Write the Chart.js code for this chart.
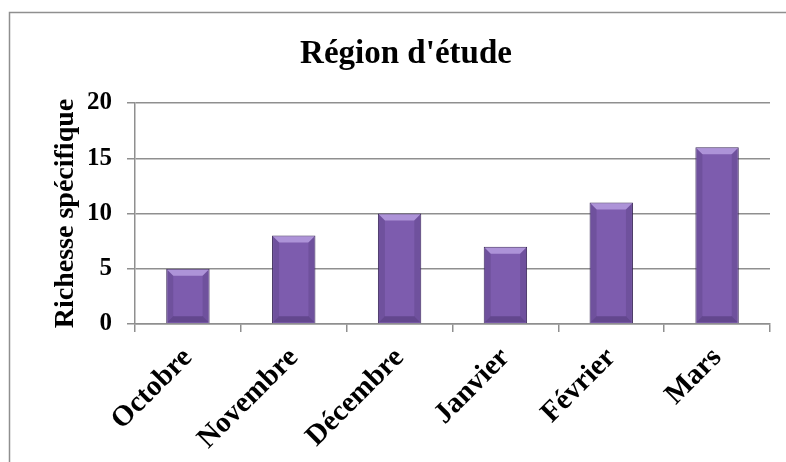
<!DOCTYPE html>
<html>
<head>
<meta charset="utf-8">
<script src="https://cdn.jsdelivr.net/npm/chart.js@4/dist/chart.umd.min.js"></script>
<style>
  html, body { margin: 0; padding: 0; background: #ffffff; }
  #wrap { width: 786px; height: 462px; position: relative; }
</style>
</head>
<body>
<div id="wrap"><canvas id="c" width="786" height="462"></canvas></div>
<script>
const chartTitle = "Région d'étude";
const yAxisTitle = "Richesse spécifique";
const categories = ["Octobre", "Novembre", "Décembre", "Janvier", "Février", "Mars"];
const richesse = [5, 8, 10, 7, 11, 16];
const yTicks = [0, 5, 10, 15, 20];

const SERIF = "'Liberation Serif', 'Times New Roman', serif";

const frame = {
  id: 'frame',
  beforeDraw(chart) {
    const ctx = chart.ctx;
    ctx.save();
    ctx.fillStyle = '#ffffff';
    ctx.fillRect(0, 0, chart.width, chart.height);
    ctx.strokeStyle = '#8f8f8f';
    ctx.lineWidth = 1.5;
    ctx.strokeRect(9.5, 12.5, chart.width + 20, chart.height + 20);
    ctx.restore();
  }
};

const bevel = {
  id: 'bevel',
  afterDatasetDraw(chart, args) {
    const ctx = chart.ctx;
    const meta = args.meta;
    ctx.save();
    meta.data.forEach(bar => {
      const w = bar.width;
      const x0 = bar.x - w / 2, x1 = bar.x + w / 2;
      const top = bar.y, bot = bar.base;
      const d = Math.min(7, (bot - top) / 3);
      ctx.fillStyle = 'rgba(190,165,230,0.75)';
      ctx.beginPath();
      ctx.moveTo(x0 + 1, top + 1); ctx.lineTo(x1 - 1, top + 1);
      ctx.lineTo(x1 - d, top + d); ctx.lineTo(x0 + d, top + d); ctx.closePath();
      ctx.fill();
      ctx.fillStyle = 'rgba(80,55,120,0.3)';
      ctx.beginPath();
      ctx.moveTo(x0 + 1, top + 1); ctx.lineTo(x0 + d, top + d);
      ctx.lineTo(x0 + d, bot - d); ctx.lineTo(x0 + 1, bot - 1); ctx.closePath();
      ctx.fill();
      ctx.beginPath();
      ctx.moveTo(x1 - 1, top + 1); ctx.lineTo(x1 - d, top + d);
      ctx.lineTo(x1 - d, bot - d); ctx.lineTo(x1 - 1, bot - 1); ctx.closePath();
      ctx.fill();
      ctx.fillStyle = 'rgba(60,40,95,0.4)';
      ctx.beginPath();
      ctx.moveTo(x0 + 1, bot - 1); ctx.lineTo(x0 + d, bot - d);
      ctx.lineTo(x1 - d, bot - d); ctx.lineTo(x1 - 1, bot - 1); ctx.closePath();
      ctx.fill();
    });
    ctx.restore();
  }
};

new Chart(document.getElementById('c'), {
  type: 'bar',
  data: {
    labels: categories,
    datasets: [{
      label: yAxisTitle,
      data: richesse,
      backgroundColor: '#7d5cae',
      borderColor: '#3a2858',
      borderWidth: 1,
      categoryPercentage: 1,
      barPercentage: 0.41
    }]
  },
  options: {
    responsive: false,
    animation: false,
    devicePixelRatio: 1,
    layout: { padding: { left: 42, right: 16, top: 0, bottom: 0 } },
    plugins: {
      legend: { display: false },
      tooltip: { enabled: false },
      title: {
        display: true,
        text: chartTitle,
        color: '#000000',
        font: { family: SERIF, size: 33, weight: 'bold' },
        padding: { top: 35, bottom: 28.4 }
      }
    },
    scales: {
      x: {
        grid: { display: true, drawOnChartArea: false, drawTicks: true, tickLength: 8, offset: true, color: '#8f8f8f', lineWidth: 1.5 },
        border: { display: true, color: '#8f8f8f', width: 1.5 },
        ticks: {
          color: '#000000',
          font: { family: SERIF, size: 29, weight: 'bold' },
          minRotation: 45, maxRotation: 45,
          padding: 9
        },
        afterFit(scale) { scale.height = 138; }
      },
      y: {
        min: 0, max: 20,
        afterBuildTicks(scale) { scale.ticks = yTicks.map(v => ({ value: v })); },
        grid: { display: true, drawTicks: true, tickLength: 8, color: '#8f8f8f', lineWidth: 1.5 },
        border: { display: true, color: '#8f8f8f', width: 1.5 },
        ticks: {
          color: '#000000',
          font: { family: SERIF, size: 25, weight: 'bold' },
          padding: 15
        },
        title: {
          display: true,
          text: yAxisTitle,
          color: '#000000',
          font: { family: SERIF, size: 28, weight: 'bold' },
          padding: { top: 7, bottom: 0 }
        },
        afterFit(scale) { scale.width = 93; }
      }
    }
  },
  plugins: [frame, bevel]
});
</script>
</body>
</html>
